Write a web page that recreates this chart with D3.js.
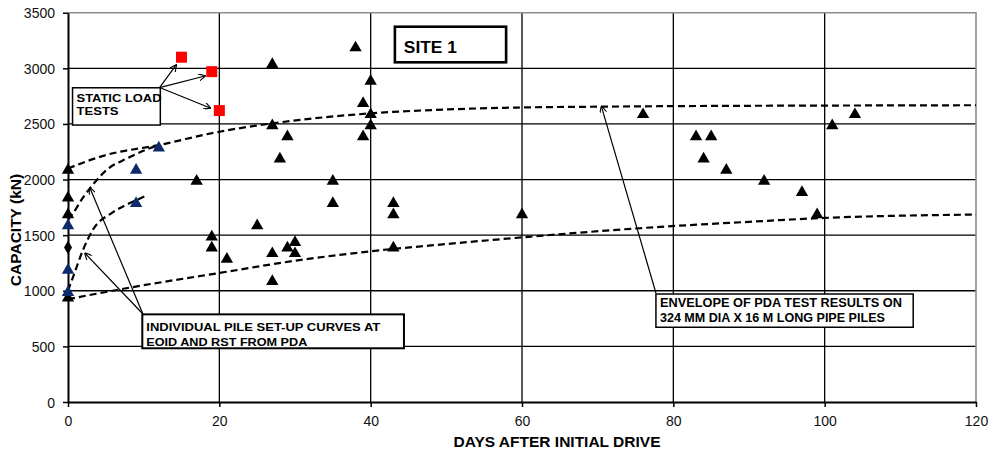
<!DOCTYPE html>
<html>
<head>
<meta charset="utf-8">
<style>
html, body { margin: 0; padding: 0; background: #fff; }
svg { display: block; font-family: "Liberation Sans", Arial, sans-serif; }
.grid line { stroke: #000; stroke-width: 1.3; }
.tick text { font-size: 14px; fill: #111; }
.env { fill: none; stroke: #000; stroke-width: 2.2; stroke-dasharray: 7,4; }
.lbl { font-weight: bold; fill: #000; }
.box { fill: #fff; stroke: #000; }
.arrow { stroke: #000; stroke-width: 1.2; fill: none; }
</style>
</head>
<body>
<script src="https://cdn.jsdelivr.net/npm/d3@7"></script>
<script>
var width = 991
var height = 460

// PDA test results (black triangles)
var pdaDays = [0, 0, 0, 0, 17, 19, 19, 21, 25, 27, 27, 27, 27, 28, 29, 29, 30, 30, 35, 35, 38, 39, 39, 40, 40, 40, 43, 43, 43, 60, 76, 83, 85, 84, 87, 92, 97, 99, 101, 104]
var pdaCap = [2100, 1850, 1700, 950, 2000, 1500, 1400, 1300, 1600, 3050, 2500, 1350, 1100, 2200, 2400, 1400, 1450, 1350, 2000, 1800, 3200, 2700, 2400, 2900, 2600, 2500, 1800, 1700, 1400, 1700, 2600, 2400, 2400, 2200, 2100, 2000, 1900, 1700, 2500, 2600]

// individual piles EOID / RST (blue triangles)
var pileDays = [0, 0, 0, 9, 9, 12]
var pileCap = [1600, 1200, 1000, 2100, 1800, 2300]

// other point (black diamond)
var diaDays = [0]
var diaCap = [1390]

// static load tests (red squares)
var slDays = [15, 19, 20]
var slCap = [3100, 2970, 2620]

// envelope curves and set-up curves
var upperDays = [0, 5, 12, 20, 27, 40, 50, 60, 70, 80, 100, 120]
var upperCap = [2100, 2220, 2310, 2430, 2505, 2595, 2630, 2648, 2655, 2660, 2665, 2668]
var lowerDays = [0, 10, 20, 30, 40, 50, 60, 75, 90, 100, 120]
var lowerCap = [925, 1050, 1160, 1270, 1355, 1420, 1480, 1560, 1620, 1655, 1685]
var setup1Days = [0, 0.7, 2, 3.3, 5.1, 7.8, 10.8, 12]
var setup1Cap = [1640, 1700, 1840, 1955, 2086, 2190, 2281, 2310]
var setup2Days = [0, 0.7, 2, 3.3, 5.8, 7.8, 10.2]
var setup2Cap = [1000, 1130, 1370, 1550, 1700, 1775, 1850]

var xTicks = [0, 20, 40, 60, 80, 100, 120]
var yTicks = [0, 500, 1000, 1500, 2000, 2500, 3000, 3500]

var margin = { left: 68, right: 15, top: 12.7, bottom: 58 }

var x = d3.scaleLinear().domain([0, 120]).range([margin.left, width - margin.right])
var y = d3.scaleLinear().domain([0, 3500]).range([height - margin.bottom, margin.top])

var svg = d3.select('body').append('svg')
    .attr('width', width)
    .attr('height', height)

svg.append('defs').append('marker')
    .attr('id', 'head')
    .attr('viewBox', '0 0 10 10')
    .attr('refX', 9).attr('refY', 5)
    .attr('markerWidth', 7).attr('markerHeight', 7)
    .attr('markerUnits', 'userSpaceOnUse')
    .attr('orient', 'auto')
    .append('path')
    .attr('d', 'M0,0 L10,5 L0,10')
    .attr('fill', 'none')
    .attr('stroke', '#000')
    .attr('stroke-width', 1.6)

// grid
var grid = svg.append('g').attr('class', 'grid')
grid.selectAll('.h').data(yTicks.slice(1, -1)).enter().append('line')
    .attr('x1', x(0)).attr('x2', x(120))
    .attr('y1', function (d) { return y(d) }).attr('y2', function (d) { return y(d) })
grid.selectAll('.v').data(xTicks.slice(1, -1)).enter().append('line')
    .attr('y1', y(0)).attr('y2', y(3500))
    .attr('x1', function (d) { return x(d) }).attr('x2', function (d) { return x(d) })

// plot border (top/right grey)
svg.append('path')
    .attr('d', 'M' + x(0) + ',' + y(3500) + 'H' + x(120) + 'V' + y(0))
    .attr('fill', 'none').attr('stroke', '#8c8c8c').attr('stroke-width', 1.6)

// axes
var xAxis = svg.append('g')
    .attr('transform', 'translate(0,' + y(0) + ')')
    .call(d3.axisBottom(x).tickValues(xTicks).tickFormat(d3.format('d')).tickSize(5).tickPadding(9).tickSizeOuter(0))
xAxis.select('.domain').attr('stroke', '#000').attr('stroke-width', 2)
xAxis.selectAll('.tick line').attr('stroke-width', 1.5)

var yAxis = svg.append('g')
    .attr('transform', 'translate(' + x(0) + ',0)')
    .call(d3.axisLeft(y).tickValues(yTicks).tickFormat(d3.format('d')).tickSize(5).tickPadding(8).tickSizeOuter(0))
yAxis.select('.domain').attr('stroke', '#000').attr('stroke-width', 2)
yAxis.selectAll('.tick line').attr('stroke-width', 1.5)
yAxis.selectAll('.tick text').attr('dy', '0.36em')

svg.selectAll('.domain, .tick text').attr('font-family', null)
svg.selectAll('g').attr('font-size', null).attr('font-family', null)

// axis titles
svg.append('text').attr('class', 'lbl')
    .attr('x', 557).attr('y', 447)
    .attr('text-anchor', 'middle').attr('font-size', 15.5)
    .text('DAYS AFTER INITIAL DRIVE')
svg.append('text').attr('class', 'lbl')
    .attr('transform', 'translate(21,230) rotate(-90)')
    .attr('text-anchor', 'middle').attr('font-size', 15.5)
    .text('CAPACITY (kN)')

// dashed curves
function curve(xs, ys) {
    return d3.line()
        .x(function (d) { return x(d[0]) })
        .y(function (d) { return y(d[1]) })
        .curve(d3.curveMonotoneX)(d3.zip(xs, ys))
}
svg.append('path').attr('class', 'env').attr('d', curve(upperDays, upperCap))
svg.append('path').attr('class', 'env').attr('d', curve(lowerDays, lowerCap))
svg.append('path').attr('class', 'env').attr('d', curve(setup1Days, setup1Cap))
svg.append('path').attr('class', 'env').attr('d', curve(setup2Days, setup2Cap))

// markers
var tri = d3.symbol(d3.symbolTriangle, 66)
function triangles(xs, ys, color) {
    svg.append('g').selectAll('path').data(d3.zip(xs, ys)).enter().append('path')
        .attr('d', tri)
        .attr('fill', color)
        .attr('transform', function (d) { return 'translate(' + x(d[0]) + ',' + (y(d[1]) + 1.7) + ')' })
}
triangles(pdaDays, pdaCap, '#000')
triangles(pileDays, pileCap, '#0f2a6b')

svg.append('g').selectAll('path').data(d3.zip(diaDays, diaCap)).enter().append('path')
    .attr('d', d3.symbol(d3.symbolDiamond, 55))
    .attr('fill', '#000')
    .attr('transform', function (d) { return 'translate(' + x(d[0]) + ',' + y(d[1]) + ')' })

svg.append('g').selectAll('rect').data(d3.zip(slDays, slCap)).enter().append('rect')
    .attr('x', function (d) { return x(d[0]) - 5.5 })
    .attr('y', function (d) { return y(d[1]) - 5.5 })
    .attr('width', 11).attr('height', 11)
    .attr('fill', '#ff0000')

// annotations (data units)
var arrows = [
    [[12.1, 2827], [14.3, 3030]],
    [[12.1, 2827], [18.1, 2931]],
    [[12.1, 2827], [18.8, 2643]],
    [[9.9, 791], [2.25, 1337]],
    [[9.9, 791], [2.9, 1924]],
    [[77.7, 980], [70.5, 2656]]
]
svg.append('g').selectAll('line').data(arrows).enter().append('line')
    .attr('class', 'arrow')
    .attr('x1', function (d) { return x(d[0][0]) }).attr('y1', function (d) { return y(d[0][1]) })
    .attr('x2', function (d) { return x(d[1][0]) }).attr('y2', function (d) { return y(d[1][1]) })
    .attr('marker-end', 'url(#head)')

var boxes = [
    { x0: 0.6, x1: 12.2, y0: 2825, y1: 2490, sw: 1.5, size: 11.5,
      lines: [['STATIC LOAD', 2700, 85], ['TESTS', 2580, 42]] },
    { x0: 43.2, x1: 57.9, y0: 3374, y1: 3054, sw: 2.6, size: 17,
      lines: [['SITE 1', 3135, 53]] },
    { x0: 9.82, x1: 44.4, y0: 788, y1: 483, sw: 2, size: 11.5,
      lines: [['INDIVIDUAL PILE SET-UP CURVES  AT', 638, 234], ['EOID AND RST FROM PDA', 506, 161]] },
    { x0: 77.7, x1: 111.7, y0: 971, y1: 672, sw: 1.5, size: 12.5,
      lines: [['ENVELOPE OF PDA TEST RESULTS ON', 851, 242], ['324 MM DIA X 16 M LONG PIPE PILES', 722, 225]] }
]
boxes.forEach(function (b) {
    var g = svg.append('g')
    g.append('rect').attr('class', 'box')
        .attr('x', x(b.x0)).attr('y', y(b.y0))
        .attr('width', x(b.x1) - x(b.x0)).attr('height', y(b.y1) - y(b.y0))
        .attr('stroke-width', b.sw)
    var tx = x(b.x0) + (b.size > 15 ? 9 : 4)
    b.lines.forEach(function (l) {
        g.append('text').attr('class', 'lbl')
            .attr('x', tx).attr('y', y(l[1]))
            .attr('font-size', b.size)
            .attr('textLength', l[2]).attr('lengthAdjust', 'spacingAndGlyphs')
            .text(l[0])
    })
})
</script>
</body>
</html>
